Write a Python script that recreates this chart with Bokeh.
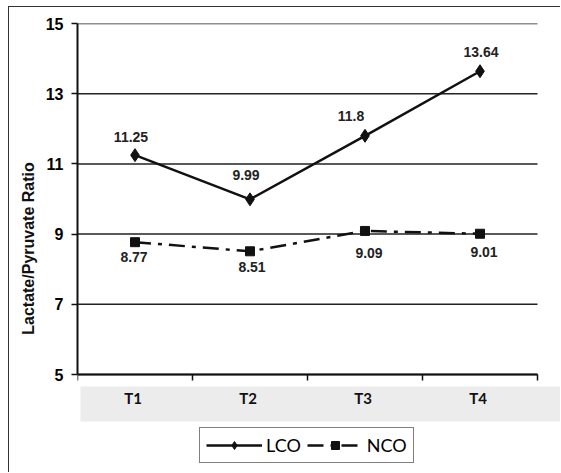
import numpy as np
from bokeh.plotting import figure
from bokeh.models import Range1d, FixedTicker, LinearAxis, Title, ColumnDataSource
from bokeh.core.properties import value
from bokeh.embed import file_html
from bokeh.resources import INLINE

categories = ["T1", "T2", "T3", "T4"]
lco = [11.25, 9.99, 11.8, 13.64]
nco = [8.77, 8.51, 9.09, 9.01]
y_ticks = [5, 7, 9, 11, 13, 15]
y_title = "Lactate/Pyruvate Ratio"

# label placement (pixels), styling only
lco_dx = [-4, -4, -14, 1]
lco_dy = [-18, -24, -20, -19]
nco_dx = [-1, 2, 4, 4]
nco_dy = [15, 16, 22, 18]

xs = [i + 0.5 for i in range(len(categories))]
edges = list(range(len(categories) + 1))
ymin, ymax = y_ticks[0], y_ticks[-1]

# canvas placed at (9, 7) in the page; frame left at 77, top at 23
W, H = 552, 466
BL, BT = 68, 16
PX_Y = 35.1
PX_X = 115.0
frame_w = W - BL
frame_h = H - BT

p = figure(width=W, height=H, output_backend="svg", toolbar_location=None,
           x_range=Range1d(0, frame_w / PX_X), y_range=Range1d(ymax - frame_h / PX_Y, ymax),
           min_border_left=BL, min_border_right=0, min_border_top=BT, min_border_bottom=0,
           x_axis_location=None, y_axis_location=None)
p.styles = {"margin-left": "8px", "margin-top": "6px",
            "border-left": "1.5px solid #333", "border-top": "1.5px solid #333"}
p.outline_line_color = None
p.grid.visible = False
p.background_fill_color = "white"
p.border_fill_color = "white"

INK = "#111111"

def ypx(py):
    return ymax - (py - 23) / PX_Y

# gray category band
p.quad(left=3 / PX_X, right=10, bottom=ypx(421), top=ypx(386),
       fill_color="#ececec", line_color=None)

# grid lines
p.segment(x0=[edges[0]] * len(y_ticks), x1=[edges[-1]] * len(y_ticks), y0=y_ticks, y1=y_ticks,
          line_color="#222222", line_width=1.5)
# x axis line & ticks
p.segment(x0=[edges[0]], x1=[edges[-1]], y0=[ymin], y1=[ymin], line_color=INK, line_width=2)
p.segment(x0=edges, x1=edges, y0=[ymin] * len(edges), y1=[ymin - 6 / PX_Y] * len(edges),
          line_color=INK, line_width=1.5)

# category labels
p.text(x=xs, y=[ypx(397)] * len(xs), text=categories, x_offset=-2,
       text_align="center", text_baseline="middle",
       text_font=value("Lato"), text_font_style="bold", text_font_size="15px", text_color=INK)

# y axis
yaxis = LinearAxis(ticker=FixedTicker(ticks=y_ticks), bounds=(ymin, ymax),
                   axis_line_width=2, axis_line_color=INK,
                   major_tick_out=6, major_tick_in=0, major_tick_line_width=1.5, major_tick_line_color=INK,
                   minor_tick_out=0, minor_tick_in=0,
                   major_label_text_font="Liberation Sans", major_label_text_font_style="bold",
                   major_label_text_font_size="16px", major_label_standoff=8,
                   major_label_text_color="black")
p.add_layout(yaxis, "left")

# y title as a left-panel title
p.add_layout(Title(text=y_title, align="center", offset=82, standoff=12,
                   text_font="Liberation Sans", text_font_style="bold",
                   text_font_size="16px", text_color="#111111"), "left")

# series
p.line(xs, lco, line_width=2.5, line_color=INK, legend_label="LCO")
p.scatter(xs, lco, marker="diamond", size=13, fill_color=INK, line_color=INK,
          legend_label="LCO")
p.line(xs, nco, line_width=2.5, line_color=INK, line_dash="16 7 4 7", legend_label="NCO")
p.scatter(xs, nco, marker="square", size=9, fill_color=INK, line_color=INK, legend_label="NCO")

# data labels
src_l = ColumnDataSource(dict(x=xs, y=lco, t=[str(v) for v in lco], dx=lco_dx, dy=lco_dy))
src_n = ColumnDataSource(dict(x=xs, y=nco, t=[str(v) for v in nco], dx=nco_dx, dy=nco_dy))
for src in (src_l, src_n):
    p.text(x="x", y="y", text="t", x_offset="dx", y_offset="dy", source=src,
           text_align="center", text_baseline="middle",
           text_font=value("Liberation Sans"), text_font_style="bold", text_font_size="14px",
           text_color="#222222")

leg = p.legend[0]
leg.location = (199 - 77, 473 - 463)
leg.orientation = "horizontal"
leg.border_line_color = "black"
leg.border_line_width = 1.5
leg.background_fill_color = "white"
leg.glyph_width = 56
leg.glyph_height = 20
leg.label_standoff = 4
leg.spacing = 6
leg.padding = 6
leg.margin = 0
leg.label_text_font = "Lato"
leg.label_text_font_size = "18px"
leg.label_text_color = "black"

open("out.html", "w").write(file_html(p, INLINE))
